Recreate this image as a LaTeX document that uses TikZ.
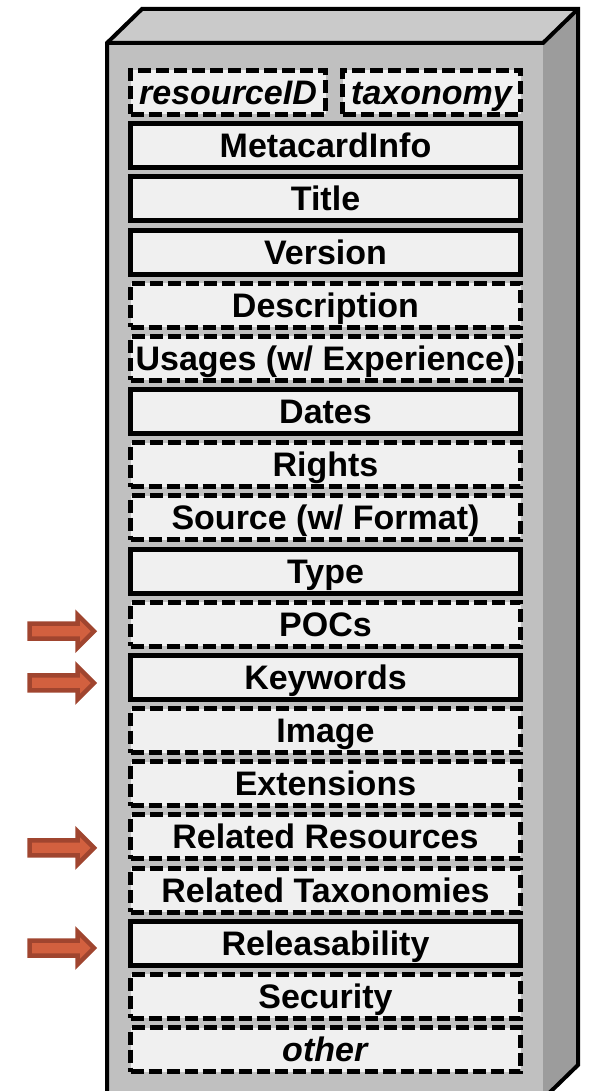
\documentclass[tikz,border=0pt]{standalone}
\usepackage{fontspec}
\setmainfont{Liberation Sans}
\usetikzlibrary{positioning, shapes.arrows}

\definecolor{frontgray}{HTML}{C0C0C0}
\definecolor{topgray}{HTML}{CACACA}
\definecolor{sidegray}{HTML}{9C9C9C}
\definecolor{fieldbg}{HTML}{F0F0F0}
\definecolor{arrowline}{HTML}{A0452F}
\definecolor{arrowfill}{HTML}{D2603F}

\newcommand{\fieldfont}{\fontsize{34}{40}\selectfont\bfseries}

\tikzset{
  field/.style={draw, line width=5pt, fill=fieldbg, inner sep=0pt,
    minimum height=44pt, text height=31pt, text depth=7pt, font=\fieldfont},
  solidfield/.style={field},
  dashfield/.style={field, dash pattern=on 13pt off 5pt},
  pointer/.style={single arrow, draw=arrowline, fill=arrowfill,
    line width=4.5pt, inner xsep=0pt, inner ysep=5.25pt, outer sep=0pt,
    minimum height=64.5pt, single arrow head extend=9pt,
    single arrow head indent=0pt}
}

\begin{document}
\begin{tikzpicture}[x=1pt, y=-1pt]
  \useasboundingbox (0,0) rectangle (590,1091);
  \clip (0,0) rectangle (590,1091);

  % Corners of the box
  \coordinate (ftl) at (107,43);
  \coordinate (ftr) at (543,43);
  \coordinate (fbr) at (543,1099);
  \coordinate (fbl) at (107,1099);
  \coordinate (btl) at (142,9);
  \coordinate (btr) at (578,9);
  \coordinate (bbr) at (578,1065);

  % Faces of the box
  \fill[frontgray] (ftl) rectangle (fbr);
  \fill[topgray] (ftl) -- (btl) -- (btr) -- (ftr) -- cycle;
  \fill[sidegray] (ftr) -- (btr) -- (bbr) -- (fbr) -- cycle;
  \draw[line width=4pt] (fbl) -- (ftl) -- (btl) -- (btr) -- (bbr) -- (fbr) -- cycle;
  \draw[line width=4pt] (ftl) -- (ftr) -- (btr);

  % Identifier fields on the first line
  \node[dashfield, minimum width=195pt, font=\fieldfont\itshape] (rid) at (228,92.5) {resourceID};
  \node[dashfield, minimum width=178pt, font=\fieldfont\itshape] (tax) at (431.5,92.5) {taxonomy};

  % One field per line
  \foreach \i/\sty/\txt in {
      1/solidfield/MetacardInfo,
      2/solidfield/Title,
      3/solidfield/Version,
      4/dashfield/Description,
      5/dashfield/{Usages (w/ Experience)},
      6/solidfield/Dates,
      7/dashfield/Rights,
      8/dashfield/{Source (w/ Format)},
      9/solidfield/Type,
      10/dashfield/POCs,
      11/solidfield/Keywords,
      12/dashfield/Image,
      13/dashfield/Extensions,
      14/dashfield/Related Resources,
      15/dashfield/Related Taxonomies,
      16/solidfield/Releasability,
      17/dashfield/Security,
      18/dashfield/{\textit{other}}} {
    \node[\sty, minimum width=390pt] (f\i) at (325.5, 92.5+53.17*\i) {\txt};
  }

  % Pointers at the highlighted fields
  \node[pointer, anchor=tip] (p1) at ([xshift=-34pt, yshift=-7pt] f10.west) {};
  \node[pointer, anchor=tip] (p2) at ([xshift=-34pt, yshift=-5.6pt] f11.west) {};
  \node[pointer, anchor=tip] (p3) at ([xshift=-34pt, yshift=-11pt] f14.west) {};
  \node[pointer, anchor=tip] (p4) at ([xshift=-34pt, yshift=-4.8pt] f16.west) {};
\end{tikzpicture}
\end{document}
